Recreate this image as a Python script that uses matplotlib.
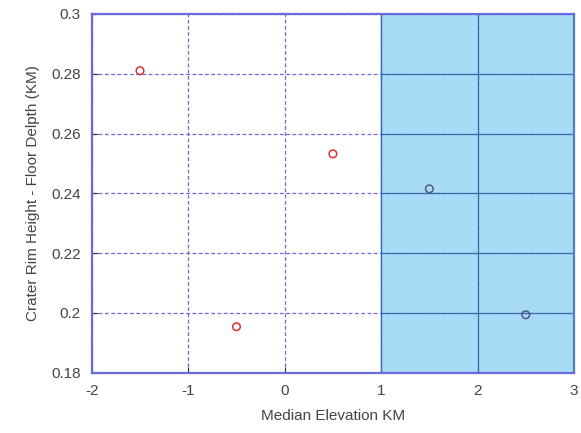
import matplotlib
matplotlib.use("Agg")
import matplotlib.pyplot as plt

plt.rcParams['font.family'] = ['Liberation Sans', 'DejaVu Sans']
plt.rcParams['axes.unicode_minus'] = False

# data
x_left = [-1.5, -0.5, 0.5]
y_left = [0.281, 0.1954, 0.2532]
x_right = [1.5, 2.5]
y_right = [0.2415, 0.1994]
shade_from = 1
shade_to = 3

fig = plt.figure(figsize=(5.81, 4.33), dpi=100)
ax = fig.add_axes([0.158, 0.139, 0.830, 0.829])
ax.set_axisbelow(True)

ax.axvspan(shade_from, shade_to, color='#a8dcf6', zorder=0)
ax.grid(True, color='#6a6ad8', linestyle=(0, (3, 2)), linewidth=0.9)
# darker solid grid inside the shaded block
for xv in [2]:
    ax.plot([xv, xv], [0.18, 0.3], color='#3a6ea8', linewidth=0.9, zorder=1.5)
for yv in [0.2, 0.22, 0.24, 0.26, 0.28]:
    ax.plot([shade_from, shade_to], [yv, yv], color='#3a6ea8', linewidth=0.9, zorder=1.5)
ax.plot([shade_from, shade_from], [0.18, 0.3], color='#3a6ea8', linewidth=1.0, zorder=1.5)

ax.scatter(x_left, y_left, s=30, facecolors='none', edgecolors='#e03030', linewidths=1.1, zorder=3)
ax.scatter(x_right, y_right, s=30, facecolors='none', edgecolors='#505a80', linewidths=1.1, zorder=3)

ax.set_xlim(-2, 3)
ax.set_ylim(0.18, 0.3)
ax.set_xticks([-2, -1, 0, 1, 2, 3])
ax.set_yticks([0.18, 0.2, 0.22, 0.24, 0.26, 0.28, 0.3])
ax.set_yticklabels(['0.18', '0.2', '0.22', '0.24', '0.26', '0.28', '0.3'])
ax.tick_params(direction='in', length=4, color='#333333', labelsize=11, labelcolor='#444444', pad=8)

for s in ax.spines.values():
    s.set_color('#6a6ae0')
    s.set_linewidth(1.6)
ax.spines['right'].set_color('#5a7ac0')
ax.spines['bottom'].set_zorder(2)

ax.set_xlabel('Median Elevation KM', fontsize=11, color='#444444', labelpad=8)
ax.set_ylabel('Crater Rim Height - Floor Delpth (KM)', fontsize=11, color='#444444', labelpad=8)

fig.savefig('out.png', dpi=100)
